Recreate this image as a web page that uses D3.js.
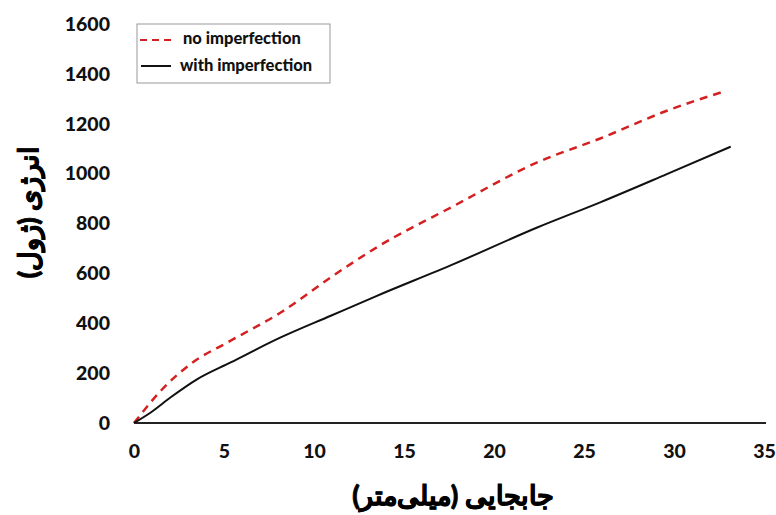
<!DOCTYPE html>
<html>
<head>
<meta charset="utf-8">
<script src="https://cdn.jsdelivr.net/npm/d3@7"></script>
<style>
  html, body { margin: 0; padding: 0; background: #fff; }
  svg text { font-family: Lato, "Open Sans", sans-serif; font-weight: 900; }
</style>
</head>
<body>
<svg id="chart" width="776" height="515"></svg>
<script>
// Displacement (mm) vs energy (J)
const noImpX = [0, 1.67, 3.15, 5.37, 8.15, 10.93, 13.5, 17.78, 22.4, 25.9, 29.6, 32.8];
const noImpY = [0, 143, 237, 330, 443, 584, 705, 871, 1045, 1141, 1252, 1330];
const withImpX = [0, 0.93, 2.04, 3.52, 5.37, 8.15, 10.93, 13.4, 17.78, 22.4, 25.9, 29.6, 33.15];
const withImpY = [0, 42, 103, 176, 243, 343, 430, 507, 638, 784, 885, 998, 1108];
const xTicks = [0, 5, 10, 15, 20, 25, 30, 35];
const yTicks = [0, 200, 400, 600, 800, 1000, 1200, 1400, 1600];
const seriesNames = ["no imperfection", "with imperfection"];
const xTitle = "جابجایی (میلی‌متر)";
const yTitle = "انرژی (ژول)";

const svg = d3.select("#chart");
const plotLeft = 134, plotRight = 764, plotTop = 24, plotBottom = 423;

const x = d3.scaleLinear().domain([0, 35]).range([plotLeft, plotRight]);
const y = d3.scaleLinear().domain([0, 1600]).range([plotBottom, plotTop]);

// axes
const xAxis = svg.append("g").attr("transform", `translate(0,${plotBottom})`)
  .call(d3.axisBottom(x).tickValues(xTicks).tickFormat(d3.format("d")).tickSize(0).tickPadding(21));
const yAxis = svg.append("g").attr("transform", `translate(${plotLeft},0)`)
  .call(d3.axisLeft(y).tickValues(yTicks).tickFormat(d3.format("d")).tickSize(0).tickPadding(24));
[xAxis, yAxis].forEach(g => {
  g.select(".domain").attr("stroke", "#222").attr("stroke-width", 2);
  g.selectAll("text").attr("font-size", 19.5).attr("fill", "#111")
    .attr("font-family", "Lato, 'Open Sans', sans-serif").attr("font-weight", 900);
});
xAxis.select(".domain").attr("d", `M${plotLeft},0H${766}`);
yAxis.select(".domain").attr("d", `M0,0V${plotTop - plotBottom}`);

const line = d3.line().curve(d3.curveMonotoneX);

svg.append("path")
  .attr("d", line(noImpX.map((v, i) => [x(v), y(noImpY[i])])))
  .attr("fill", "none").attr("stroke", "#d42020").attr("stroke-width", 2.5)
  .attr("stroke-dasharray", "8,6");

svg.append("path")
  .attr("d", line(withImpX.map((v, i) => [x(v), y(withImpY[i])])))
  .attr("fill", "none").attr("stroke", "#111").attr("stroke-width", 2);

// legend
const lg = svg.append("g");
lg.append("rect").attr("x", 137).attr("y", 24).attr("width", 193).attr("height", 59)
  .attr("fill", "#fff").attr("stroke", "#999").attr("stroke-width", 1);
lg.append("line").attr("x1", 140).attr("x2", 175).attr("y1", 40).attr("y2", 40)
  .attr("stroke", "#d42020").attr("stroke-width", 2).attr("stroke-dasharray", "7,5");
lg.append("line").attr("x1", 141).attr("x2", 171).attr("y1", 66).attr("y2", 66)
  .attr("stroke", "#111").attr("stroke-width", 2);
lg.append("text").attr("x", 183).attr("y", 44).attr("font-size", 16.5).attr("fill", "#111").text(seriesNames[0]);
lg.append("text").attr("x", 180).attr("y", 71).attr("font-size", 16.5).attr("fill", "#111").text(seriesNames[1]);

// titles
svg.append("text").attr("x", 453).attr("y", 505).attr("text-anchor", "middle")
  .attr("font-size", 27).attr("font-weight", 900).attr("font-family", "'DejaVu Sans', 'Noto Sans', sans-serif")
  .attr("fill", "#000").attr("stroke", "#000").attr("stroke-width", 0.8)
  .attr("direction", "rtl").attr("unicode-bidi", "plaintext").text(xTitle);
svg.append("text").attr("transform", "translate(38,212) rotate(-90)").attr("text-anchor", "middle")
  .attr("font-size", 27).attr("font-weight", 900).attr("font-family", "'DejaVu Sans', 'Noto Sans', sans-serif")
  .attr("fill", "#000").attr("stroke", "#000").attr("stroke-width", 0.8)
  .attr("direction", "rtl").attr("unicode-bidi", "plaintext").text(yTitle);
</script>
</body>
</html>
